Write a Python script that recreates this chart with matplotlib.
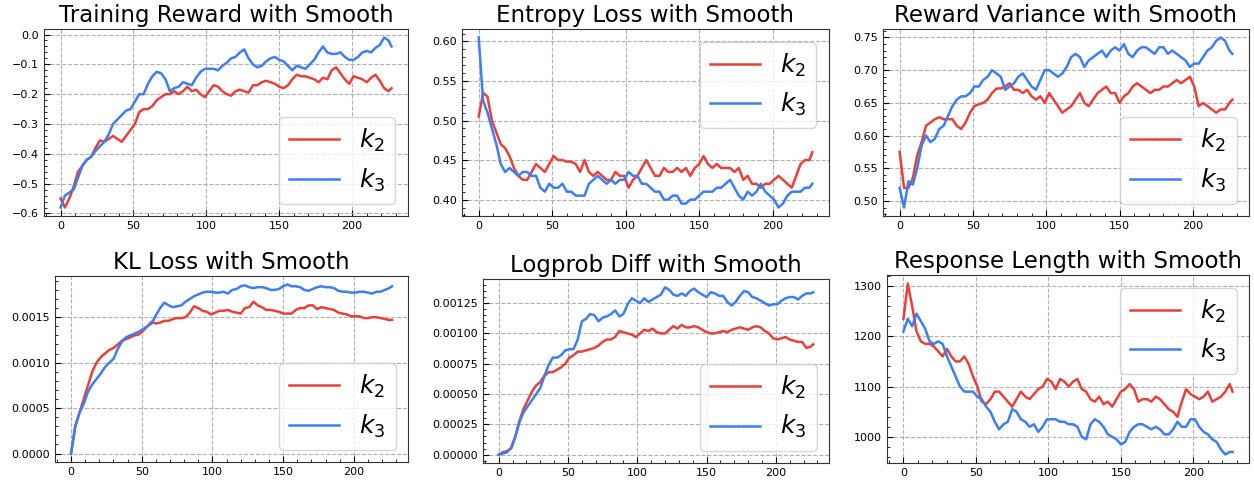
import numpy as np
import matplotlib
matplotlib.use("Agg")
import matplotlib.pyplot as plt
from matplotlib.ticker import AutoMinorLocator, MultipleLocator

# ---------------- data ----------------
steps = list(range(0, 226, 3)) + [227]

titles = ["Training Reward with Smooth", "Entropy Loss with Smooth",
          "Reward Variance with Smooth", "KL Loss with Smooth",
          "Logprob Diff with Smooth", "Response Length with Smooth"]
series_labels = ["$k_2$", "$k_3$"]

reward_k2 = [-0.55, -0.58, -0.55, -0.51, -0.46, -0.44, -0.42, -0.41, -0.38, -0.355,
             -0.36, -0.35, -0.34, -0.35, -0.36, -0.34, -0.32, -0.30, -0.26, -0.25,
             -0.25, -0.24, -0.22, -0.21, -0.20, -0.20, -0.19, -0.20, -0.19, -0.175,
             -0.19, -0.185, -0.20, -0.21, -0.19, -0.17, -0.175, -0.19, -0.20, -0.205,
             -0.19, -0.185, -0.19, -0.195, -0.17, -0.17, -0.16, -0.155, -0.16, -0.165,
             -0.175, -0.18, -0.17, -0.15, -0.135, -0.14, -0.14, -0.145, -0.15, -0.16,
             -0.145, -0.15, -0.12, -0.11, -0.13, -0.15, -0.165, -0.14, -0.145, -0.15,
             -0.16, -0.145, -0.135, -0.155, -0.18, -0.19,
             -0.18]
reward_k3 = [-0.58, -0.54, -0.53, -0.52, -0.48, -0.44, -0.42, -0.41, -0.39, -0.375,
             -0.36, -0.335, -0.30, -0.285, -0.27, -0.255, -0.25, -0.225, -0.20, -0.20,
             -0.165, -0.14, -0.125, -0.13, -0.15, -0.19, -0.18, -0.175, -0.16, -0.165,
             -0.17, -0.145, -0.125, -0.115, -0.115, -0.115, -0.12, -0.105, -0.095, -0.08,
             -0.075, -0.06, -0.05, -0.08, -0.10, -0.11, -0.105, -0.09, -0.08, -0.075,
             -0.085, -0.09, -0.105, -0.12, -0.105, -0.11, -0.115, -0.10, -0.085, -0.06,
             -0.04, -0.06, -0.065, -0.065, -0.06, -0.075, -0.085, -0.085, -0.075, -0.06,
             -0.055, -0.06, -0.045, -0.035, -0.01, -0.02,
             -0.04]

entropy_k2 = [0.505, 0.535, 0.53, 0.50, 0.485, 0.47, 0.465, 0.455, 0.44, 0.43,
              0.425, 0.425, 0.435, 0.445, 0.44, 0.435, 0.445, 0.455, 0.45, 0.45,
              0.448, 0.448, 0.445, 0.435, 0.45, 0.435, 0.43, 0.435, 0.43, 0.425,
              0.425, 0.435, 0.43, 0.43, 0.415, 0.425, 0.43, 0.44, 0.45, 0.44,
              0.43, 0.43, 0.44, 0.435, 0.435, 0.44, 0.435, 0.44, 0.43, 0.44,
              0.445, 0.455, 0.445, 0.44, 0.445, 0.44, 0.44, 0.44, 0.435, 0.44,
              0.425, 0.43, 0.42, 0.42, 0.415, 0.42, 0.42, 0.425, 0.43, 0.425,
              0.42, 0.415, 0.43, 0.445, 0.45, 0.45,
              0.46]
entropy_k3 = [0.605, 0.525, 0.51, 0.49, 0.47, 0.445, 0.435, 0.44, 0.435, 0.43,
              0.435, 0.435, 0.43, 0.43, 0.415, 0.41, 0.42, 0.415, 0.415, 0.42,
              0.41, 0.41, 0.405, 0.405, 0.405, 0.42, 0.425, 0.43, 0.425, 0.42,
              0.425, 0.42, 0.425, 0.425, 0.435, 0.43, 0.43, 0.42, 0.42, 0.415,
              0.41, 0.41, 0.40, 0.40, 0.405, 0.405, 0.395, 0.395, 0.40, 0.40,
              0.405, 0.41, 0.41, 0.41, 0.415, 0.415, 0.42, 0.425, 0.415, 0.405,
              0.40, 0.41, 0.405, 0.41, 0.42, 0.41, 0.405, 0.40, 0.39, 0.395,
              0.405, 0.41, 0.41, 0.41, 0.415, 0.415,
              0.42]

variance_k2 = [0.575, 0.52, 0.52, 0.535, 0.57, 0.59, 0.615, 0.62, 0.625, 0.628,
               0.625, 0.625, 0.625, 0.615, 0.61, 0.62, 0.635, 0.645, 0.648, 0.65,
               0.655, 0.665, 0.672, 0.672, 0.675, 0.68, 0.67, 0.67, 0.665, 0.67,
               0.66, 0.655, 0.66, 0.65, 0.665, 0.655, 0.645, 0.635, 0.64, 0.645,
               0.655, 0.665, 0.65, 0.645, 0.655, 0.665, 0.67, 0.675, 0.665, 0.665,
               0.65, 0.66, 0.665, 0.675, 0.68, 0.675, 0.67, 0.665, 0.67, 0.67,
               0.675, 0.675, 0.68, 0.685, 0.68, 0.685, 0.69, 0.675, 0.645, 0.65,
               0.645, 0.64, 0.635, 0.64, 0.64, 0.65,
               0.655]
variance_k3 = [0.52, 0.49, 0.53, 0.525, 0.55, 0.585, 0.60, 0.59, 0.595, 0.61,
               0.615, 0.63, 0.645, 0.655, 0.66, 0.66, 0.665, 0.675, 0.675, 0.685,
               0.69, 0.70, 0.695, 0.69, 0.67, 0.675, 0.68, 0.69, 0.695, 0.685,
               0.675, 0.67, 0.685, 0.70, 0.70, 0.695, 0.69, 0.695, 0.705, 0.72,
               0.725, 0.72, 0.705, 0.715, 0.72, 0.725, 0.73, 0.72, 0.73, 0.735,
               0.73, 0.74, 0.725, 0.72, 0.73, 0.735, 0.735, 0.73, 0.725, 0.735,
               0.735, 0.725, 0.73, 0.725, 0.72, 0.715, 0.705, 0.71, 0.71, 0.72,
               0.73, 0.735, 0.745, 0.75, 0.745, 0.73,
               0.725]

kl_k2 = [0.0, 0.0003, 0.00045, 0.0006, 0.00075, 0.0009, 0.001, 0.00106, 0.0011, 0.00114,
         0.00116, 0.0012, 0.00124, 0.00126, 0.00128, 0.0013, 0.00131, 0.00135, 0.0014, 0.00145,
         0.00143, 0.00144, 0.00146, 0.00146, 0.00148, 0.00149, 0.00149, 0.0015, 0.00155, 0.00162,
         0.0016, 0.00157, 0.00156, 0.00153, 0.00155, 0.00157, 0.00157, 0.00158, 0.00156, 0.00155,
         0.00154, 0.0016, 0.00161, 0.00167, 0.00163, 0.00161, 0.00158, 0.00158, 0.00157, 0.00156,
         0.00154, 0.00154, 0.00154, 0.00158, 0.0016, 0.0016, 0.00163, 0.00163, 0.00159, 0.00161,
         0.0016, 0.00159, 0.00158, 0.00155, 0.00154, 0.00153, 0.00151, 0.00151, 0.00151, 0.00149,
         0.00149, 0.0015, 0.0015, 0.00149, 0.00148, 0.00147,
         0.00147]
kl_k3 = [0.0, 0.0003, 0.00045, 0.00055, 0.00068, 0.00076, 0.00082, 0.00088, 0.00095, 0.001,
         0.00104, 0.00115, 0.00123, 0.00128, 0.0013, 0.00132, 0.00134, 0.00137, 0.0014, 0.00143,
         0.00152, 0.0016, 0.00166, 0.00163, 0.00161, 0.00162, 0.00163, 0.00167, 0.0017, 0.00173,
         0.00175, 0.00177, 0.00178, 0.00178, 0.00177, 0.00177, 0.00178, 0.00176, 0.0018, 0.00181,
         0.00184, 0.00185, 0.00183, 0.00182, 0.00183, 0.00183, 0.00182, 0.0018, 0.0018, 0.00181,
         0.00184, 0.00186, 0.00184, 0.00184, 0.00183, 0.0018, 0.00179, 0.00181, 0.00183, 0.00184,
         0.00183, 0.00183, 0.00182, 0.00179, 0.00178, 0.00178, 0.00177, 0.00177, 0.00178, 0.00178,
         0.00177, 0.00176, 0.00178, 0.00178, 0.0018, 0.00182,
         0.00184]

logprob_k2 = [0.0, 0.00002, 0.00003, 0.00005, 0.00015, 0.00028, 0.00038, 0.00045, 0.00052, 0.00057,
              0.0006, 0.00065, 0.00068, 0.00068, 0.0007, 0.00072, 0.00075, 0.0008, 0.00082, 0.00085,
              0.00085, 0.00086, 0.00087, 0.00088, 0.0009, 0.00093, 0.00095, 0.00095, 0.00097, 0.00102,
              0.00101, 0.001, 0.00099, 0.00097, 0.001, 0.00103, 0.00102, 0.00104, 0.00101, 0.001,
              0.001, 0.00103, 0.00106, 0.00104, 0.00107, 0.00105, 0.00105, 0.00106, 0.00105, 0.00103,
              0.00101, 0.001, 0.001, 0.00101, 0.00102, 0.00101, 0.00103, 0.00104, 0.00105, 0.00104,
              0.00103, 0.00105, 0.00106, 0.00105, 0.00102, 0.001, 0.00096, 0.00095, 0.00096, 0.00097,
              0.00095, 0.00094, 0.00093, 0.00093, 0.00088, 0.00089,
              0.00091]
logprob_k3 = [0.0, 0.00001, 0.00002, 0.00006, 0.00015, 0.00027, 0.00035, 0.0004, 0.00045, 0.0005,
              0.00055, 0.00065, 0.00074, 0.0008, 0.0008, 0.00082, 0.00086, 0.00087, 0.00087, 0.00095,
              0.0011, 0.00112, 0.00116, 0.00115, 0.0011, 0.00113, 0.00114, 0.00116, 0.00119, 0.00114,
              0.00116, 0.00124, 0.00129, 0.00127, 0.00125, 0.00129, 0.00126, 0.00128, 0.0013, 0.00132,
              0.00138, 0.00136, 0.00132, 0.00131, 0.00133, 0.00131, 0.00135, 0.00137, 0.00134, 0.00132,
              0.0013, 0.00134, 0.00133, 0.00131, 0.00131, 0.00126, 0.00123, 0.00126, 0.00131, 0.00135,
              0.00134, 0.0013, 0.00129, 0.00127, 0.00125, 0.00123, 0.00124, 0.00124, 0.00127, 0.00129,
              0.0013, 0.0013, 0.00128, 0.00131, 0.00133, 0.00133,
              0.00134]

length_k2 = [1235, 1305, 1260, 1210, 1190, 1185, 1185, 1180, 1170, 1160,
             1175, 1160, 1150, 1150, 1160, 1145, 1120, 1100, 1070, 1065,
             1075, 1090, 1090, 1080, 1070, 1060, 1075, 1090, 1080, 1075,
             1085, 1095, 1100, 1115, 1110, 1095, 1115, 1110, 1100, 1110,
             1115, 1095, 1090, 1075, 1070, 1080, 1065, 1070, 1060, 1075,
             1090, 1095, 1105, 1095, 1070, 1075, 1075, 1070, 1080, 1075,
             1065, 1055, 1050, 1040, 1070, 1095, 1085, 1080, 1075, 1080,
             1090, 1070, 1075, 1080, 1090, 1105,
             1090]
length_k3 = [1210, 1235, 1220, 1245, 1230, 1215, 1190, 1185, 1190, 1185,
             1160, 1140, 1120, 1100, 1090, 1090, 1090, 1080, 1075, 1060,
             1050, 1030, 1015, 1025, 1030, 1055, 1050, 1035, 1030, 1020,
             1025, 1010, 1020, 1035, 1035, 1035, 1030, 1030, 1025, 1025,
             1020, 1000, 995, 1025, 1035, 1030, 1020, 1005, 1000, 995,
             985, 990, 1010, 1020, 1025, 1025, 1020, 1015, 1020, 1015,
             1005, 1005, 1015, 1030, 1020, 1020, 1035, 1035, 1020, 1010,
             1005, 995, 990, 975, 965, 970,
             970]

panels = [(reward_k2, reward_k3), (entropy_k2, entropy_k3),
          (variance_k2, variance_k3), (kl_k2, kl_k3),
          (logprob_k2, logprob_k3), (length_k2, length_k3)]
y_major_steps = [0.1, 0.05, 0.05, 0.0005, 0.00025, 100]

# ---------------- layout / style ----------------
W, H = 1254, 480
boxes_px = [(44, 29, 408, 216), (462, 29, 829, 216), (883, 29, 1249, 216),
            (55, 276, 408, 462), (483, 279, 829, 463), (887, 275, 1249, 463)]
legend_locs = ["lower right", "upper right", "lower right",
               "lower right", "lower right", "upper right"]
colors = ["#E8403A", "#3D7EF2"]

fig = plt.figure(figsize=(W / 100, H / 100), dpi=100)

for i, (box, (a, b)) in enumerate(zip(boxes_px, panels)):
    l, t, r, bt = box
    ax = fig.add_axes([l / W, 1 - bt / H, (r - l) / W, (bt - t) / H])
    ax.plot(steps, a, color=colors[0], lw=1.8, label=series_labels[0])
    ax.plot(steps, b, color=colors[1], lw=1.8, label=series_labels[1])
    ax.set_title(titles[i], fontsize=16.5, pad=5)
    ax.grid(True, ls="--", color="#b0b0b0", lw=0.8)
    ax.set_axisbelow(True)
    ax.set_xticks([0, 50, 100, 150, 200])
    ax.yaxis.set_major_locator(MultipleLocator(y_major_steps[i]))
    ax.xaxis.set_minor_locator(AutoMinorLocator())
    ax.yaxis.set_minor_locator(AutoMinorLocator())
    ax.tick_params(which="both", direction="in", labelsize=8)
    ax.tick_params(which="major", length=4)
    ax.tick_params(which="minor", length=2)
    for s in ax.spines.values():
        s.set_color("#333333")
    ax.legend(loc=legend_locs[i], fontsize=18, framealpha=0.8)

fig.savefig("out.png", dpi=100)
